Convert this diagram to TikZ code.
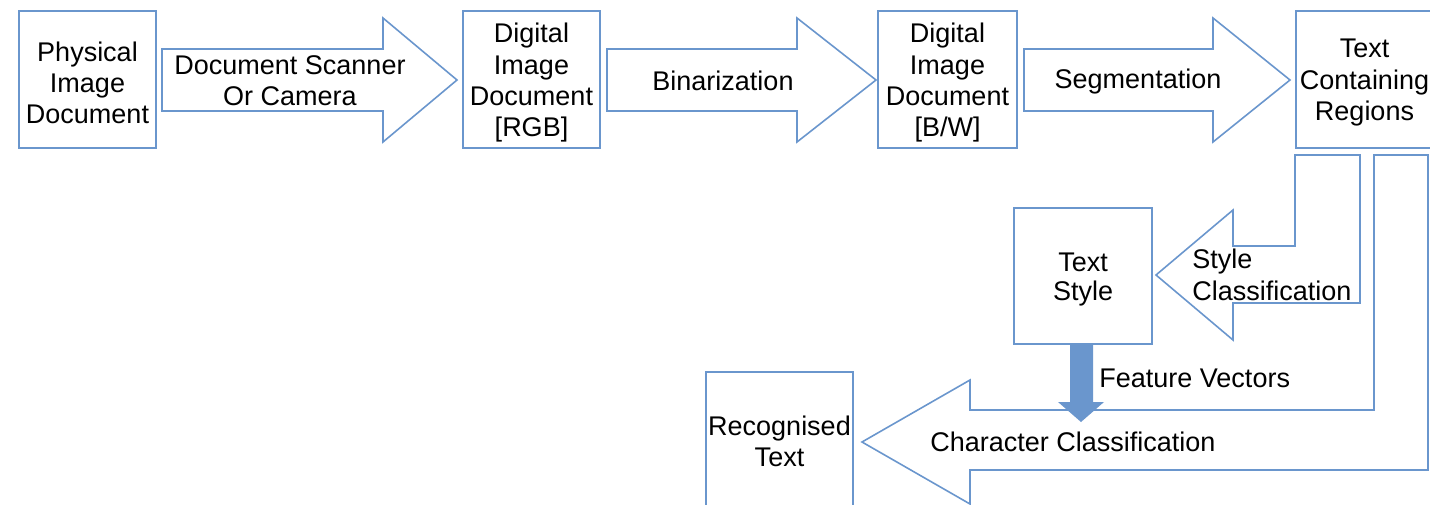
\documentclass[tikz,border=0pt]{standalone}
\usepackage{fontspec}
\setmainfont{Liberation Sans}
\definecolor{ln}{HTML}{6A96CD}
\newcommand\fs{\fontsize{13.5}{15.7}\selectfont}
\begin{document}
\begin{tikzpicture}[x=0.5pt,y=-0.5pt,
  box/.style={draw=ln, line width=0.8pt, inner sep=0pt},
  blk/.style={draw=ln, line width=0.8pt, line join=miter},
  lbl/.style={font=\fs, inner sep=0pt, align=center},
  boxtext/.style={label={[lbl,yshift=-1.7pt]center:{#1}}}]
\clip (0,0) rectangle (1430,504);
% boxes
\node[box, minimum width=68.5pt, minimum height=68.5pt, boxtext={Physical\\Image\\Document}] (phys) at (87.5,79.5) {};
\node[box, minimum width=68.5pt, minimum height=68.5pt, boxtext={Digital\\Image\\Document\\{[}RGB{]}}] (rgb) at (531.5,79.5) {};
\node[box, minimum width=69.5pt, minimum height=68.5pt, boxtext={Digital\\Image\\Document\\{[}B/W{]}}] (bw) at (947.5,79.5) {};
\node[box, minimum width=68.5pt, minimum height=68.5pt, boxtext={Text\\Containing\\Regions}] (tcr) at (1364.5,79.5) {};
\node[box, minimum width=69pt, minimum height=68pt, label={[lbl,yshift=-1.8pt,font=\fontsize{13.5}{14.8}\selectfont]center:{Text\\Style}}] (ts) at (1083,276) {};
\node[box, minimum width=73.5pt, minimum height=69.5pt, label={[lbl]center:{Recognised\\Text}}] (rec) at (779.5,441.5) {};
% block arrows
\draw[blk] (162,49) -- (383,49) -- (383,18) -- (457,80) -- (383,142) -- (383,111) -- (162,111) -- cycle;
\node[lbl] (l1) at (290,80.5) {Document Scanner\\Or Camera};
\draw[blk] (607,49) -- (797,49) -- (797,18) -- (876,80) -- (797,142) -- (797,111) -- (607,111) -- cycle;
\node[lbl] (l2) at (723,81) {Binarization};
\draw[blk] (1024,49) -- (1213,49) -- (1213,18) -- (1290,80) -- (1213,142) -- (1213,111) -- (1024,111) -- cycle;
\node[lbl] (l3) at (1138,82) {Segmentation};
\draw[blk] (1295,155) -- (1360,155) -- (1360,303) -- (1233,303) -- (1233,340) -- (1156,275) -- (1233,210) -- (1233,246) -- (1295,246) -- cycle;
\node[lbl, anchor=west, align=left] (l4) at (1192,275) {Style\\Classification};
\draw[blk] (1374,155) -- (1428,155) -- (1428,470) -- (970,470) -- (970,504) -- (862,442) -- (970,380) -- (970,410) -- (1374,410) -- cycle;
\node[lbl] (l5) at (1073,442) {Character Classification};
% feature vectors arrow
\fill[ln] (1070,344) -- (1093,344) -- (1093,402) -- (1104,402) -- (1081,422) -- (1058,402) -- (1070,402) -- cycle;
\node[lbl, anchor=west] (l6) at (1099,378) {Feature Vectors};
\end{tikzpicture}
\end{document}
